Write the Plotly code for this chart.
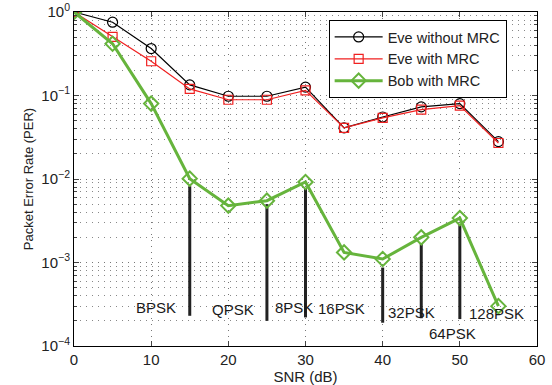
import numpy as np
import plotly.graph_objects as go

snr = [0, 5, 10, 15, 20, 25, 30, 35, 40, 45, 50, 55]
eve_no_mrc = [1.0, 0.755, 0.365, 0.134, 0.098, 0.098, 0.126, 0.041, 0.0553, 0.073, 0.080, 0.028]
eve_mrc = [1.0, 0.504, 0.257, 0.120, 0.089, 0.089, 0.115, 0.041, 0.054, 0.0678, 0.0757, 0.027]
bob_mrc = [1.0, 0.416, 0.080, 0.0101, 0.0048, 0.0055, 0.0092, 0.00132, 0.0011, 0.0020, 0.0034, 0.00030]

stem_x = [15, 25, 30, 40, 45, 50]
stem_top = [0.0082, 0.0050, 0.0076, 0.00087, 0.0017, 0.0028]
stem_bottom = [0.00023, 0.00020, 0.00022, 0.00019, 0.000215, 0.00021]

mod_labels = ["BPSK", "QPSK", "8PSK", "16PSK", "32PSK", "64PSK", "128PSK"]
mod_x = [10.6, 20.6, 28.5, 34.7, 43.8, 49.0, 54.7]
mod_y = [0.00029, 0.00027, 0.00029, 0.000285, 0.000255, 0.00014, 0.000247]

x_ticks = [0, 10, 20, 30, 40, 50, 60]
y_ticks = [1e-4, 1e-3, 1e-2, 1e-1, 1e0]
y_ticktext = ["10<sup>−4</sup>", "10<sup>−3</sup>", "10<sup>−2</sup>", "10<sup>−1</sup>", "10<sup>0</sup>"]

FONT = "Liberation Sans, Arial, Helvetica, sans-serif"
GRID_DASH = "1px,5px"

fig = go.Figure()

# stems
sx, sy = [], []
for x, t, b in zip(stem_x, stem_top, stem_bottom):
    sx += [x, x, None]
    sy += [t, b, None]
fig.add_trace(go.Scatter(x=sx, y=sy, mode="lines", line=dict(color="#222222", width=3),
                         showlegend=False, hoverinfo="skip"))

fig.add_trace(go.Scatter(x=snr, y=eve_no_mrc, mode="lines+markers", name="Eve without MRC",
                         line=dict(color="black", width=1.2),
                         marker=dict(symbol="circle-open", size=10, color="black", line=dict(width=1.2))))
fig.add_trace(go.Scatter(x=snr, y=eve_mrc, mode="lines+markers", name="Eve with MRC",
                         line=dict(color="#f02020", width=1.2),
                         marker=dict(symbol="square-open", size=9, color="#f02020", line=dict(width=1.2))))
fig.add_trace(go.Scatter(x=snr, y=bob_mrc, mode="lines+markers", name="Bob with MRC",
                         line=dict(color="#66b43c", width=3),
                         marker=dict(symbol="diamond-open", size=11, color="#66b43c", line=dict(width=2))))

for lab, x, y in zip(mod_labels, mod_x, mod_y):
    fig.add_annotation(x=x, y=np.log10(y), text=lab, showarrow=False,
                       font=dict(family=FONT, size=15, color="#1a1a1a"))

minor_vals = [m * 10.0 ** e for e in range(-4, 0) for m in range(2, 10)]

fig.update_xaxes(range=[0, 60], tickvals=x_ticks, ticks="inside", ticklen=5,
                 showline=True, linecolor="black", linewidth=1, mirror="ticks",
                 showgrid=True, gridcolor="#777", griddash=GRID_DASH, gridwidth=1,
                 zeroline=False, automargin=False,
                 title=dict(text="SNR (dB)", font=dict(family=FONT, size=15), standoff=0),
                 tickfont=dict(family=FONT, size=15, color="#222"))
fig.update_yaxes(type="log", range=[-4, 0], tickvals=y_ticks, ticktext=y_ticktext,
                 ticks="inside", ticklen=5, automargin=False,
                 showline=True, linecolor="black", linewidth=1, mirror="ticks",
                 showgrid=True, gridcolor="#777", griddash=GRID_DASH, gridwidth=1,
                 minor=dict(tickvals=minor_vals, ticks="inside", ticklen=3, showgrid=True,
                            gridcolor="#888", griddash=GRID_DASH, gridwidth=1),
                 title=dict(text="Packet Error Rate (PER)", font=dict(family=FONT, size=13), standoff=4),
                 tickfont=dict(family=FONT, size=15, color="#222"))

fig.update_layout(width=552, height=385, plot_bgcolor="white", paper_bgcolor="white",
                  margin=dict(l=74, r=15, t=12, b=39),
                  font=dict(family=FONT, color="#222"),
                  legend=dict(x=0.55, y=0.976, xanchor="left", yanchor="top",
                              bgcolor="white", bordercolor="black", borderwidth=1,
                              font=dict(family=FONT, size=14.5, color="#222"),
                              tracegroupgap=0, itemwidth=48))

fig.write_html("out.html", config={"displayModeBar": False},
               post_script="document.body.style.margin='0';document.body.style.overflow='hidden';")
